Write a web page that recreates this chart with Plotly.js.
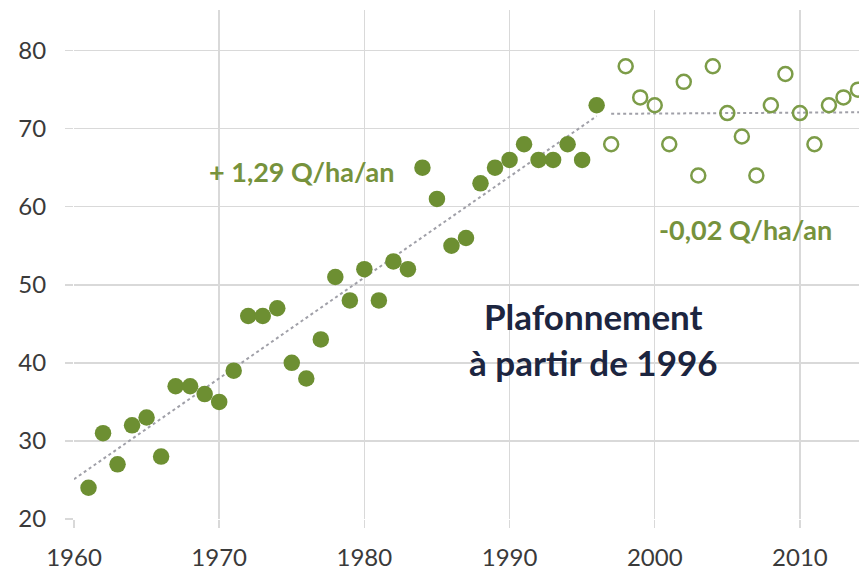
<!DOCTYPE html>
<html>
<head>
<meta charset="utf-8">
<script src="https://cdn.plot.ly/plotly-3.0.1.min.js"></script>
<style>
  html, body { margin: 0; padding: 0; background: #ffffff; }
  #chart { width: 859px; height: 570px; }
</style>
</head>
<body>
<div id="chart"></div>
<script>
// Years and yields (Q/ha) before the plateau (filled markers)
const yearsBefore = [1961,1962,1963,1964,1965,1966,1967,1968,1969,1970,
                     1971,1972,1973,1974,1975,1976,1977,1978,1979,1980,
                     1981,1982,1983,1984,1985,1986,1987,1988,1989,1990,
                     1991,1992,1993,1994,1995,1996];
const yieldBefore = [24,31,27,32,33,28,37,37,36,35,
                     39,46,46,47,40,38,43,51,48,52,
                     48,53,52,65,61,55,56,63,65,66,
                     68,66,66,68,66,73];

// Years and yields after 1996 (hollow markers)
const yearsAfter = [1997,1998,1999,2000,2001,2002,2003,2004,2005,
                    2006,2007,2008,2009,2010,2011,2012,2013,2014];
const yieldAfter = [68,78,74,73,68,76,64,78,72,
                    69,64,73,77,72,68,73,74,75];

// Trend line end points
const trend1Years = [1960, 1996];
const trend1Vals  = [25.1, 71.6];
const trend2Years = [1997, 2014.2];
const trend2Vals  = [71.9, 72.1];

// Tick labels
const xTicks = [1960,1970,1980,1990,2000,2010];
const yTicks = [20,30,40,50,60,70,80];

const green = '#6d8f32';
const greenText = '#76923c';
const gridCol = '#d9d9d9';

const traces = [
  { x: trend1Years, y: trend1Vals, mode: 'lines', type: 'scatter',
    line: { color: '#a0a0a8', width: 2, dash: 'dot' }, hoverinfo: 'skip' },
  { x: trend2Years, y: trend2Vals, mode: 'lines', type: 'scatter',
    line: { color: '#a0a0a8', width: 2, dash: 'dot' }, hoverinfo: 'skip' },
  { x: yearsBefore, y: yieldBefore, mode: 'markers', type: 'scatter',
    marker: { color: green, size: 16.5, line: { width: 0 } } },
  { x: yearsAfter, y: yieldAfter, mode: 'markers', type: 'scatter',
    marker: { color: '#7c9c48', size: 14, symbol: 'circle-open',
              line: { color: '#7c9c48', width: 2.5 } } }
];

const layout = {
  width: 859, height: 570,
  margin: { l: 73.5, r: 0, t: 10, b: 51, pad: 0 },
  paper_bgcolor: '#ffffff', plot_bgcolor: '#ffffff',
  showlegend: false,
  font: { family: 'Lato, "Open Sans", sans-serif', color: '#3a3a3a' },
  xaxis: {
    range: [1960, 2014.07], tickvals: xTicks, ticktext: xTicks.map(String),
    showgrid: true, gridcolor: gridCol, gridwidth: 1.5,
    zeroline: false, showline: false,
    ticks: 'outside', ticklen: 8, tickcolor: gridCol, tickwidth: 1.5,
    ticklabelstandoff: 9,
    tickfont: { size: 24, color: '#3a3a3a' }
  },
  yaxis: {
    range: [20, 85.2], tickvals: yTicks, ticktext: yTicks.map(String),
    showgrid: true, gridcolor: gridCol, gridwidth: 1.5,
    zeroline: false, showline: false,
    ticks: 'outside', ticklen: 8, tickcolor: gridCol, tickwidth: 1.5,
    ticklabelstandoff: 14,
    tickfont: { size: 24, color: '#3a3a3a' }
  },
  annotations: [
    { x: 1975.7, y: 64.5, xref: 'x', yref: 'y', showarrow: false,
      text: '+ 1,29 Q/ha/an',
      font: { family: 'Lato, sans-serif', size: 27, color: greenText, weight: 'bold' } },
    { x: 2006.25, y: 57.05, xref: 'x', yref: 'y', showarrow: false,
      text: '-0,02 Q/ha/an',
      font: { family: 'Lato, sans-serif', size: 27, color: greenText, weight: 'bold' } },
    { x: 1995.75, y: 43.1, xref: 'x', yref: 'y', showarrow: false,
      text: 'Plafonnement<br>à partir de 1996',
      font: { family: 'Lato, sans-serif', size: 35, color: '#1c2540', weight: 'bold' } }
  ]
};

Plotly.newPlot('chart', traces, layout, { displayModeBar: false, staticPlot: true });
</script>
</body>
</html>
